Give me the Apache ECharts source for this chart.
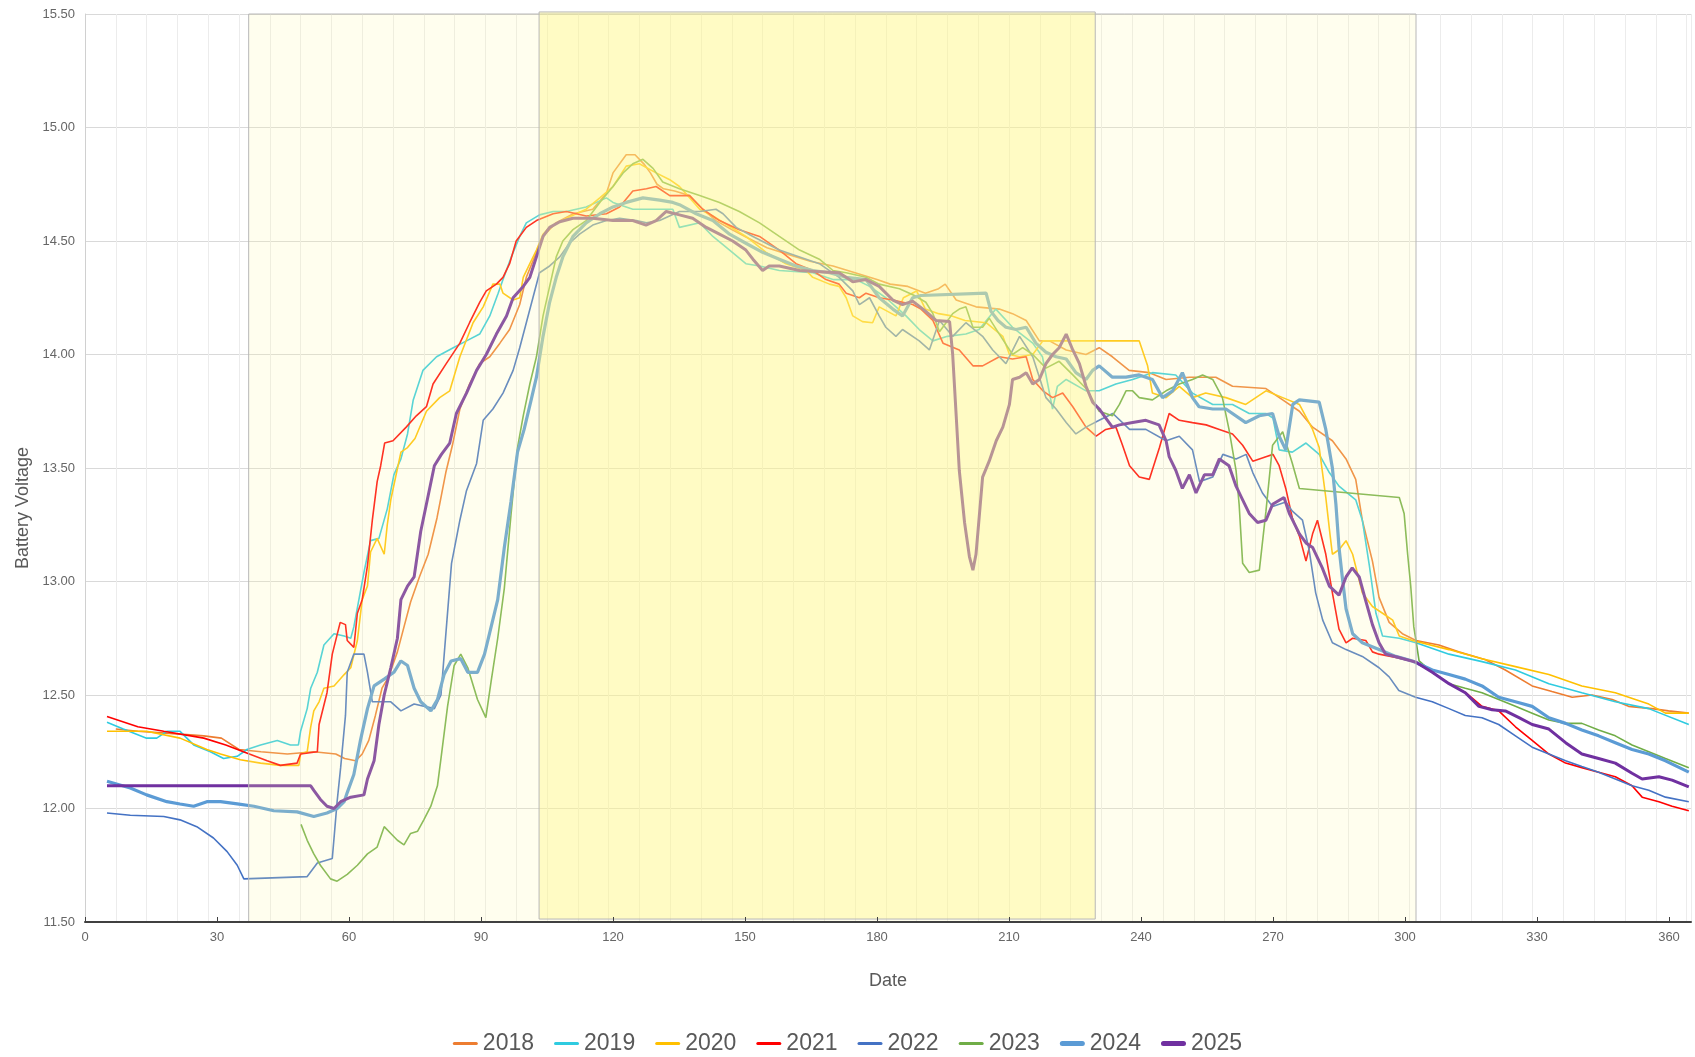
<!DOCTYPE html>
<html><head><meta charset="utf-8">
<script src="https://cdn.jsdelivr.net/npm/echarts@6/dist/echarts.min.js"></script>
<style>html,body{margin:0;padding:0;background:#fff}#c{width:1695px;height:1057px}</style>
</head><body><div id="c"></div>
<script>
const years = ['2018','2019','2020','2021','2022','2023','2024','2025'];

const y2018 = [[7,12.35],[12,12.34],[20,12.33],[27,12.32],[31,12.31],[35,12.26],[40,12.25],[46,12.24],[52,12.25],[57,12.24],[59,12.22],[61.5,12.21],[63,12.24],[64.5,12.30],[66,12.41],[67.5,12.53],[69,12.58],[71,12.69],[72.5,12.80],[74,12.91],[76,13.02],[78,13.12],[80,13.28],[82,13.48],[83.5,13.60],[85.2,13.76],[87.4,13.87],[89.7,13.96],[92,13.99],[94.3,14.05],[96.5,14.11],[98.8,14.22],[100.3,14.34],[102.6,14.45],[104.1,14.52],[107,14.58],[111,14.62],[115.4,14.64],[118.5,14.71],[120,14.80],[123,14.88],[125,14.88],[127,14.84],[128.5,14.80],[130,14.75],[131.5,14.73],[134,14.72],[137.4,14.70],[140.4,14.64],[143.4,14.59],[147,14.55],[150,14.52],[155,14.47],[160,14.44],[165,14.41],[170,14.39],[175,14.36],[180,14.33],[183,14.31],[187,14.30],[191,14.27],[194,14.29],[195.5,14.31],[198,14.24],[202.5,14.21],[207.8,14.20],[210.8,14.18],[213.9,14.15],[216.9,14.06],[219.2,14.06],[223,14.02],[227.5,14.0],[230.5,14.03],[233.5,13.99],[237.3,13.93],[241.9,13.92],[245.7,13.89],[251,13.90],[257,13.90],[260.8,13.86],[268.4,13.85],[272.2,13.80],[276,13.75],[279,13.68],[283.5,13.62],[286.6,13.54],[288.8,13.45],[290.3,13.27],[292.6,13.09],[294.1,12.93],[296.4,12.82],[299.4,12.77],[302.5,12.74],[307.7,12.72],[312.2,12.69],[318.3,12.655],[322.8,12.61],[328.9,12.54],[333.4,12.515],[338,12.49],[342.5,12.50],[347.1,12.48],[350.8,12.45],[356.1,12.44],[359.9,12.43],[364.5,12.42]];

const y2019 = [[5,12.38],[8.7,12.35],[14,12.31],[16.3,12.31],[18.6,12.34],[21.6,12.34],[24.7,12.28],[28.5,12.25],[31.5,12.22],[34.6,12.23],[36.8,12.26],[39.9,12.28],[43.7,12.30],[46.7,12.28],[48.5,12.28],[49,12.34],[50.5,12.44],[51.3,12.53],[52.8,12.60],[54.3,12.72],[56.6,12.77],[58.9,12.76],[60.4,12.75],[61.1,12.80],[63.4,13.04],[64.9,13.18],[66.8,13.19],[68.7,13.32],[70.2,13.47],[71.8,13.54],[73.3,13.65],[74.6,13.80],[76.8,13.93],[79.9,13.99],[83.7,14.03],[86.7,14.06],[89.7,14.09],[92,14.17],[93.9,14.27],[95,14.33],[96.9,14.43],[98.8,14.52],[100.3,14.58],[103.3,14.615],[106.4,14.63],[109.4,14.63],[113.9,14.65],[118.5,14.69],[120,14.67],[124.5,14.64],[129.8,14.64],[133.6,14.64],[135.1,14.56],[139.7,14.58],[142.7,14.52],[146.5,14.46],[150.2,14.40],[153.3,14.39],[157.8,14.37],[165.4,14.36],[170,14.33],[175.2,14.33],[178.3,14.30],[182,14.25],[186.6,14.17],[189.6,14.11],[192.7,14.06],[196,14.08],[200.2,14.09],[203.2,14.11],[207,14.20],[210.8,14.12],[215.4,14.05],[217.6,13.99],[219.9,13.76],[221,13.86],[223,13.89],[227.5,13.84],[230.5,13.84],[234.3,13.87],[238.1,13.89],[242.6,13.92],[247.9,13.91],[251.7,13.83],[256.3,13.78],[260.8,13.78],[264.6,13.74],[268.4,13.74],[270,13.72],[271.4,13.58],[274.4,13.57],[277.5,13.61],[280.5,13.56],[282.8,13.48],[285,13.42],[288.8,13.36],[290.3,13.27],[291.9,13.07],[293.4,12.86],[294.9,12.76],[298.7,12.75],[302.5,12.73],[310,12.68],[317.5,12.647],[325.1,12.61],[332.7,12.55],[340.2,12.51],[347.8,12.47],[355.4,12.44],[364.5,12.37]];

const y2020 = [[5,12.34],[14,12.34],[21.6,12.31],[27.7,12.26],[30.8,12.24],[35.3,12.215],[39.9,12.20],[44.4,12.19],[48.6,12.19],[49,12.24],[50.5,12.25],[51.3,12.36],[52,12.43],[53.2,12.47],[54.3,12.53],[56.6,12.54],[58.9,12.59],[60.4,12.62],[61.9,12.74],[63,12.92],[64.2,12.98],[64.9,13.13],[66.4,13.19],[68,13.12],[68.7,13.25],[69.5,13.36],[71.8,13.57],[73.3,13.59],[75,13.63],[77.6,13.75],[80.6,13.81],[82.9,13.84],[85.2,13.99],[88.2,14.14],[90.5,14.21],[92.7,14.31],[94.3,14.31],[95,14.27],[97.3,14.24],[98.8,14.25],[99.6,14.34],[101.1,14.40],[102.6,14.46],[104.1,14.53],[105.6,14.56],[109.4,14.60],[113.9,14.64],[117,14.69],[120,14.74],[123,14.83],[126,14.84],[129.8,14.80],[132.9,14.77],[135.1,14.74],[137,14.70],[139.7,14.64],[142.7,14.61],[150.2,14.52],[154.8,14.45],[159.3,14.40],[163.9,14.37],[165.4,14.34],[169.2,14.31],[171.4,14.30],[173,14.25],[174.5,14.17],[176.7,14.145],[179,14.14],[180.5,14.21],[184.3,14.17],[186,14.25],[189,14.28],[191,14.20],[194,14.18],[197,14.17],[200,14.15],[204.8,14.14],[208.6,14.08],[210.1,14.0],[212.4,13.99],[215.4,14.0],[217.7,14.06],[223,14.06],[239.6,14.06],[241.5,13.95],[242.6,13.83],[245.7,13.81],[248.7,13.86],[251.7,13.81],[254.7,13.83],[259.3,13.81],[263.8,13.78],[268.4,13.84],[272.2,13.81],[276,13.78],[279,13.67],[280.5,13.59],[282,13.37],[283,13.20],[283.5,13.12],[285,13.14],[286.6,13.18],[288.1,13.12],[290.3,12.95],[292.6,12.89],[294.9,12.86],[297.2,12.83],[298.7,12.76],[301.7,12.74],[310,12.70],[317.5,12.66],[325.1,12.625],[332.7,12.59],[340.2,12.54],[347.8,12.51],[355.4,12.46],[359.2,12.42],[364.5,12.42]];

const y2021 = [[5,12.405],[12,12.36],[17.9,12.34],[27,12.31],[32,12.28],[36,12.25],[41.4,12.21],[44.4,12.19],[48.2,12.20],[49,12.24],[52.8,12.25],[53.2,12.37],[55,12.51],[56.2,12.68],[58,12.82],[59.2,12.81],[59.6,12.74],[61.1,12.71],[61.9,12.86],[63,12.92],[64.2,13.07],[65.3,13.27],[66.4,13.44],[67.2,13.51],[68.1,13.61],[70,13.62],[73,13.68],[75.3,13.73],[77.6,13.77],[79.1,13.87],[82.1,13.96],[85.2,14.05],[87.4,14.14],[89.7,14.23],[91.2,14.28],[93.5,14.31],[95,14.34],[96.5,14.40],[98,14.50],[100.3,14.56],[102.6,14.59],[106.4,14.62],[109.4,14.63],[113.9,14.61],[118.5,14.62],[121.5,14.65],[124.5,14.72],[127.6,14.73],[129.8,14.74],[132.9,14.70],[137.4,14.70],[140.4,14.64],[144.2,14.59],[148.7,14.55],[153.3,14.52],[157.8,14.46],[161.6,14.40],[165.4,14.37],[168.4,14.33],[171.4,14.31],[173,14.27],[176,14.25],[177.5,14.27],[180.5,14.25],[183.6,14.24],[188.1,14.22],[190,14.20],[192.7,14.15],[195,14.05],[198.7,14.02],[201.8,13.95],[204,13.95],[207.8,13.99],[210.8,13.98],[213.9,13.99],[215.4,13.89],[217.7,13.84],[219.9,13.81],[222.2,13.83],[224.5,13.77],[227.5,13.68],[229.8,13.64],[232,13.67],[234.3,13.68],[235.8,13.60],[237.4,13.51],[239.6,13.46],[241.9,13.45],[244.2,13.59],[246.4,13.74],[248.7,13.71],[251.7,13.70],[254.8,13.69],[257.8,13.67],[260.8,13.65],[263.1,13.60],[265.4,13.53],[268.4,13.55],[270,13.56],[271.4,13.51],[272.9,13.41],[274.4,13.28],[276,13.20],[277.5,13.09],[279,13.21],[280.1,13.27],[282,13.12],[283.5,12.95],[285,12.79],[286.6,12.73],[288.1,12.75],[291.1,12.74],[292.6,12.69],[294.1,12.68],[297.9,12.665],[302.4,12.645],[306.2,12.60],[310,12.55],[313.8,12.51],[317.5,12.45],[321.3,12.43],[325.1,12.36],[328.9,12.30],[332.7,12.24],[336.5,12.20],[340.2,12.18],[344,12.16],[347.8,12.14],[351.6,12.10],[353.9,12.05],[357.7,12.03],[360.7,12.01],[364.5,11.99]];

const y2022 = [[5,11.98],[10.3,11.97],[17.9,11.965],[21.6,11.95],[25.4,11.92],[29.2,11.87],[32.3,11.81],[34.6,11.75],[36.1,11.69],[50.5,11.70],[52.8,11.76],[56.2,11.78],[56.6,11.87],[57.3,12.03],[58.1,12.18],[59.2,12.41],[59.6,12.60],[61.1,12.68],[63.4,12.68],[64.2,12.60],[65.3,12.47],[69.5,12.47],[71.8,12.43],[74.8,12.46],[79.4,12.44],[80.9,12.50],[82.1,12.79],[83.3,13.08],[85.2,13.27],[86.7,13.40],[89,13.52],[90.5,13.71],[92.7,13.76],[95,13.83],[97.3,13.93],[98.8,14.03],[100.3,14.14],[101.8,14.25],[103.3,14.36],[105.6,14.39],[107.9,14.43],[110.1,14.49],[112.4,14.53],[115.4,14.57],[118.5,14.59],[121.5,14.60],[125.3,14.59],[127.6,14.58],[130.6,14.59],[135.1,14.63],[139.7,14.63],[143.4,14.64],[145,14.62],[148,14.56],[151.8,14.52],[157.8,14.46],[162.4,14.43],[166.9,14.40],[171.4,14.34],[174.5,14.28],[176,14.22],[178.3,14.25],[180.5,14.17],[182,14.12],[184.3,14.08],[185.8,14.11],[189.6,14.06],[191.9,14.02],[194.2,14.15],[197.2,14.08],[200.2,14.14],[204,14.08],[206.3,14.02],[209.3,13.96],[212.4,14.08],[215.4,13.99],[218.4,13.81],[220.7,13.76],[223,13.70],[225.2,13.65],[227.5,13.68],[230.5,13.71],[233.6,13.74],[237.4,13.67],[241.1,13.67],[245.7,13.62],[248.7,13.64],[251.7,13.58],[253.3,13.44],[256.3,13.46],[258.6,13.56],[261.6,13.54],[263.9,13.56],[265.4,13.48],[267.6,13.39],[269.9,13.33],[272.9,13.35],[274.4,13.31],[276.7,13.27],[278.2,13.14],[279.7,12.95],[281.3,12.83],[283.5,12.73],[286.6,12.70],[290.3,12.67],[294.1,12.62],[296.4,12.58],[298.6,12.52],[302.4,12.49],[306.2,12.47],[310,12.44],[313.7,12.41],[317.5,12.40],[321.3,12.37],[325.1,12.32],[328.9,12.27],[332.7,12.24],[336.5,12.21],[340.2,12.185],[344,12.16],[347.8,12.13],[351.6,12.10],[355.4,12.08],[359.2,12.05],[364.5,12.03]];

const y2023 = [[49.1,11.93],[50.5,11.86],[52,11.80],[53.5,11.75],[55.8,11.69],[57.3,11.68],[59.6,11.71],[61.9,11.75],[64.2,11.80],[66.4,11.83],[68,11.92],[69.5,11.89],[71,11.86],[72.5,11.84],[74,11.89],[75.6,11.90],[77,11.95],[78.6,12.01],[80.1,12.10],[80.9,12.22],[82.4,12.45],[83.9,12.63],[85.4,12.68],[87,12.62],[89.2,12.48],[91.1,12.40],[92.3,12.56],[93.8,12.75],[95.3,12.97],[96.8,13.29],[98.3,13.59],[99.6,13.73],[101.1,13.87],[102.6,13.99],[104.1,14.17],[105.6,14.30],[107.1,14.43],[108.6,14.50],[110.9,14.55],[113.9,14.59],[117,14.67],[120,14.74],[122.3,14.80],[124.5,14.84],[126.8,14.86],[129.1,14.82],[131.3,14.76],[135.1,14.73],[139.7,14.70],[144.2,14.67],[148.7,14.63],[153.3,14.58],[157.8,14.52],[162.4,14.46],[166.9,14.42],[170,14.37],[173,14.36],[177.5,14.34],[180.5,14.31],[185.1,14.29],[188.5,14.26],[191.1,14.23],[192.7,14.18],[194.2,14.10],[195.7,14.14],[197.2,14.18],[198.7,14.20],[200.2,14.21],[201.8,14.12],[204,14.12],[205.5,14.16],[207.8,14.09],[210.8,14.0],[213.1,14.03],[215.4,14.0],[218.4,13.94],[221.4,13.97],[224.5,13.91],[227.5,13.85],[230.5,13.75],[233.5,13.73],[235.1,13.78],[236.6,13.84],[238.1,13.84],[239.6,13.81],[242.6,13.80],[245.7,13.84],[248.7,13.87],[251.7,13.89],[254,13.91],[256.3,13.89],[258.5,13.81],[260,13.67],[261.6,13.49],[262.3,13.34],[263.1,13.08],[264.6,13.04],[266.9,13.05],[268.4,13.31],[269.9,13.60],[272.2,13.66],[274.4,13.52],[276,13.41],[298.7,13.37],[299.8,13.30],[300.6,13.12],[301.3,12.98],[302,12.80],[302.5,12.74],[303.2,12.65],[306.2,12.60],[310,12.55],[313.7,12.53],[317.5,12.51],[321.3,12.48],[325.1,12.45],[328.9,12.42],[332.7,12.39],[336.5,12.375],[340.2,12.375],[344,12.346],[347.8,12.32],[351.6,12.28],[355.4,12.25],[359.2,12.22],[364.5,12.18]];

const y2024 = [[5,12.12],[10.3,12.09],[14,12.06],[18.6,12.03],[21.6,12.02],[24.7,12.01],[27.7,12.03],[30.8,12.03],[34.6,12.02],[38.4,12.01],[42.9,11.99],[48.2,11.985],[52,11.965],[55,11.98],[57.3,12.0],[58.9,12.03],[59.6,12.07],[61.1,12.15],[62.6,12.30],[64.2,12.44],[65.7,12.54],[68,12.57],[70.2,12.60],[71.8,12.65],[73.3,12.63],[74.8,12.53],[76.3,12.47],[78.6,12.43],[80.1,12.48],[81.6,12.59],[83.2,12.65],[85.4,12.66],[87,12.60],[89.2,12.60],[90.8,12.68],[92.3,12.80],[93.8,12.92],[95.3,13.15],[96.8,13.35],[98.3,13.57],[99.8,13.67],[101.4,13.80],[102.6,13.90],[104.1,14.08],[105.6,14.23],[107.1,14.34],[108.6,14.43],[110.9,14.52],[113.9,14.58],[117,14.62],[120,14.65],[123,14.67],[126.8,14.69],[130.6,14.68],[133.6,14.67],[135.1,14.66],[138.9,14.62],[142.7,14.59],[146.5,14.53],[150.2,14.49],[154,14.45],[157.8,14.42],[161.6,14.39],[165.4,14.37],[169.2,14.36],[173,14.34],[177.5,14.33],[180.5,14.25],[183.6,14.20],[185.8,14.17],[188.1,14.25],[190,14.26],[204.8,14.27],[205.9,14.19],[207.5,14.15],[209.3,14.12],[211.6,14.11],[213.9,14.12],[216.1,14.05],[218.4,14.01],[220.7,13.99],[223,13.98],[225.2,13.92],[227.5,13.89],[229,13.93],[230.5,13.95],[233.5,13.90],[236.6,13.90],[239.6,13.91],[242.6,13.89],[244.9,13.81],[247.2,13.84],[249.4,13.92],[251.7,13.81],[253.2,13.77],[256.3,13.76],[259.3,13.76],[263.8,13.70],[266.9,13.73],[269.9,13.74],[271.4,13.64],[272.9,13.58],[274.5,13.78],[276,13.80],[280.5,13.79],[282,13.67],[283.5,13.50],[284.3,13.34],[285,13.15],[285.8,13.01],[286.6,12.88],[288.1,12.77],[290.3,12.73],[294.1,12.70],[297.9,12.67],[301.7,12.65],[306.2,12.61],[310,12.59],[313.7,12.57],[317.5,12.54],[321.3,12.49],[325.1,12.47],[328.9,12.45],[332.7,12.40],[336.5,12.375],[340.2,12.346],[344,12.32],[347.8,12.29],[351.6,12.26],[355.4,12.24],[359.2,12.21],[364.5,12.16]];

const y2025 = [[5,12.10],[51.3,12.10],[52,12.08],[53.5,12.04],[55,12.01],[56.6,12.0],[58.1,12.03],[60.4,12.05],[63.4,12.06],[64.2,12.13],[65.7,12.21],[66.8,12.37],[68,12.50],[69.5,12.62],[71,12.75],[71.8,12.92],[73.3,12.98],[74.8,13.02],[76.3,13.22],[77.8,13.36],[79.4,13.51],[81,13.56],[82.9,13.61],[84.4,13.74],[86.7,13.83],[89,13.93],[91.2,14.0],[93.5,14.09],[95.8,14.17],[97.3,14.25],[99.6,14.30],[101.1,14.34],[102.6,14.43],[104.1,14.52],[105.6,14.56],[107.9,14.585],[110.9,14.60],[115.4,14.60],[120,14.59],[124.5,14.59],[127.5,14.57],[129.8,14.59],[132.1,14.63],[135.1,14.615],[138.1,14.60],[141.2,14.56],[144.2,14.53],[147.2,14.50],[150.2,14.46],[151.8,14.42],[154,14.37],[155.5,14.39],[157.8,14.39],[162.4,14.37],[166.9,14.365],[171.4,14.36],[174.5,14.32],[177.5,14.33],[180.5,14.30],[183.6,14.24],[185.8,14.22],[188.1,14.235],[191.1,14.19],[193.4,14.15],[196.5,14.145],[197.2,14.0],[198,13.73],[198.7,13.49],[199.9,13.26],[201,13.11],[201.8,13.05],[202.5,13.12],[203.3,13.30],[204,13.46],[205.5,13.53],[207.1,13.62],[208.6,13.68],[210.1,13.78],[210.8,13.89],[212.4,13.90],[213.9,13.92],[215.4,13.87],[216.9,13.89],[218.4,13.96],[219.9,14.0],[221.4,14.03],[223,14.09],[224.5,14.02],[226,13.96],[227.5,13.86],[229,13.79],[230.5,13.76],[232,13.72],[233.5,13.68],[235.1,13.69],[238.1,13.70],[241.1,13.71],[244.1,13.69],[245.7,13.62],[246.4,13.55],[247.9,13.49],[249.4,13.41],[251,13.47],[252.5,13.39],[254.4,13.47],[256.3,13.47],[257.8,13.54],[260,13.51],[261.6,13.42],[263.1,13.36],[264.6,13.30],[266.5,13.26],[268.4,13.27],[269.9,13.34],[272.5,13.37],[273.7,13.30],[276,13.21],[277.5,13.17],[279,13.15],[281.2,13.06],[282.8,12.98],[285,12.94],[286.6,13.02],[288,13.06],[289.6,13.02],[291,12.92],[292.6,12.81],[294.1,12.73],[295.6,12.68],[298.6,12.665],[302.4,12.645],[306.2,12.60],[310,12.55],[313.7,12.51],[316.8,12.45],[319.8,12.435],[322.8,12.43],[325.9,12.40],[328.9,12.37],[332.7,12.35],[336.5,12.29],[340.2,12.24],[344,12.22],[347.8,12.20],[351.6,12.155],[353.9,12.13],[357.7,12.14],[360.7,12.125],[364.5,12.095]];

// shaded date ranges (day of year)
const shadedPeriods = [[37.2, 302.5], [103.2, 229.6]];

const seriesData = [y2018, y2019, y2020, y2021, y2022, y2023, y2024, y2025];
const colors = ['#ED7D31','#2FCBE0','#FFC000','#FF0000','#4472C4','#70AD47','#5B9BD5','#7030A0'];
const widths = [1.6,1.6,1.6,1.6,1.6,1.6,3.2,3.0];

const thinIcon = 'path://M0,0M25,14M1.5,5.5L23.5,5.5A1.5,1.5,0,0,1,23.5,8.5L1.5,8.5A1.5,1.5,0,0,1,1.5,5.5Z';
const thickIcon = 'path://M0,0M25,14M2.5,4.5L22.5,4.5A2.5,2.5,0,0,1,22.5,9.5L2.5,9.5A2.5,2.5,0,0,1,2.5,4.5Z';

const chart = echarts.init(document.getElementById('c'), null, {renderer: 'canvas'});

const series = years.map((name, i) => ({
  name: name,
  type: 'line',
  data: seriesData[i],
  symbol: 'none',
  showSymbol: false,
  lineStyle: { color: colors[i], width: widths[i] },
  itemStyle: { color: colors[i] },
  emphasis: { disabled: true },
  z: 2
}));

series.push({
  type: 'custom',
  name: 'periods',
  silent: true,
  z: 5,
  xAxisIndex: 0,
  yAxisIndex: 0,
  clip: false,
  data: shadedPeriods.map((p, i) => [p[0], p[1], i]),
  encode: { x: [0, 1] },
  renderItem: function (params, api) {
    const k = api.value(2);
    const top = k === 0 ? 15.5 : 15.509;
    const bot = k === 0 ? 11.5 : 11.513;
    const p0 = api.coord([api.value(0), top]);
    const p1 = api.coord([api.value(1), bot]);
    return {
      type: 'rect',
      shape: { x: p0[0], y: p0[1], width: p1[0] - p0[0], height: p1[1] - p0[1] },
      style: {
        fill: k === 0 ? 'rgba(255,250,170,0.2)' : 'rgba(255,248,130,0.38)',
        stroke: '#b8b8b8',
        lineWidth: 1
      }
    };
  }
});

const option = {
  animation: false,
  backgroundColor: '#ffffff',
  grid: { left: 85, right: 4, top: 14, bottom: 135, containLabel: false },
  legend: {
    data: years.map((y, i) => ({ name: y, icon: i >= 6 ? thickIcon : thinIcon })),
    top: 1027,
    left: 'center',
    itemWidth: 25,
    itemHeight: 14,
    itemGap: 20,
    itemStyle: { borderWidth: 0 },
    textStyle: { fontFamily: 'Liberation Sans', fontSize: 23, color: '#595959' }
  },
  xAxis: [
    {
      type: 'value', min: 0, max: 365, interval: 30, z: 10,
      name: 'Date', nameLocation: 'middle', nameGap: 50,
      nameTextStyle: { fontFamily: 'Liberation Sans', fontSize: 18, color: '#595959' },
      axisLine: { show: true, onZero: false, lineStyle: { color: '#404040', width: 2 } },
      axisTick: { show: true, inside: true, length: 5, lineStyle: { color: '#404040', width: 1 } },
      axisLabel: { showMaxLabel: false, margin: 9, fontFamily: 'Liberation Sans', fontSize: 13, color: '#666666' },
      splitLine: { show: false }
    },
    {
      type: 'value', min: 0, max: 365, interval: 7, position: 'top',
      axisLine: { show: false }, axisTick: { show: false }, axisLabel: { show: false },
      splitLine: { show: true, lineStyle: { color: '#ececec', width: 1 } }
    }
  ],
  yAxis: {
    type: 'value', min: 11.5, max: 15.5, interval: 0.5,
    name: 'Battery Voltage', nameLocation: 'middle', nameGap: 52,
    nameTextStyle: { fontFamily: 'Liberation Sans', fontSize: 18, color: '#595959', padding: [0, 80, 0, 0] },
    axisLine: { show: true, lineStyle: { color: '#d0d0d0', width: 1 } },
    axisTick: { show: false },
    axisLabel: { margin: 10, fontFamily: 'Liberation Sans', fontSize: 13, color: '#666666',
      formatter: v => v.toFixed(2) },
    splitLine: { show: true, lineStyle: { color: '#d9d9d9', width: 1 } }
  },
  series: series
};

chart.setOption(option);
</script>
</body></html>
